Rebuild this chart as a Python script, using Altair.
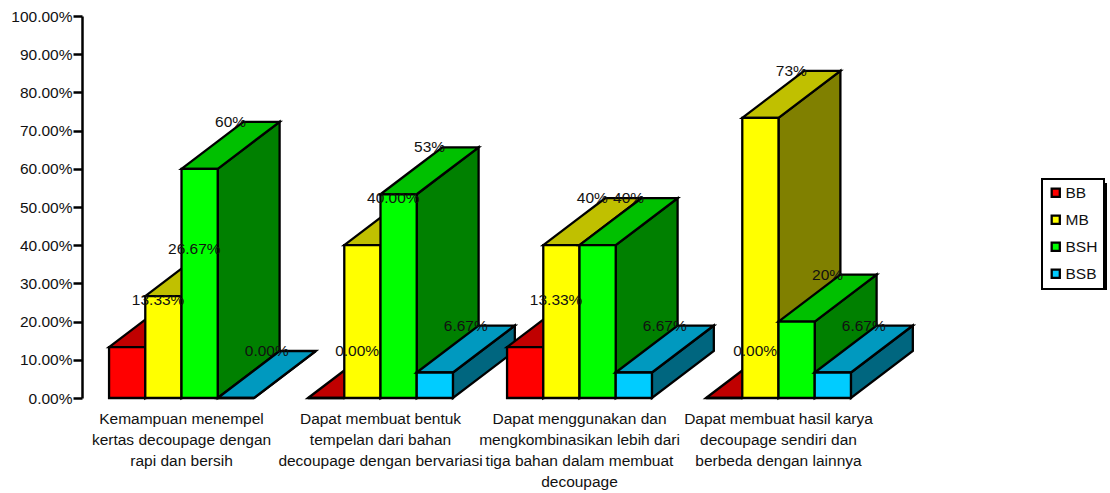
import altair as alt
import pandas as pd

# Survey results per assessed skill, as fractions of respondents
categories = [
    "Kemampuan menempel\nkertas decoupage dengan\nrapi dan bersih",
    "Dapat membuat bentuk\ntempelan dari bahan\ndecoupage dengan bervariasi",
    "Dapat menggunakan dan\nmengkombinasikan lebih dari\ntiga bahan dalam membuat\ndecoupage",
    "Dapat membuat hasil karya\ndecoupage sendiri dan\nberbeda dengan lainnya",
]
series = ["BB", "MB", "BSH", "BSB"]
bb_values = [0.1333, 0.0, 0.1333, 0.0]
mb_values = [0.2667, 0.40, 0.40, 0.7333]
bsh_values = [0.60, 0.5333, 0.40, 0.20]
bsb_values = [0.0, 0.0667, 0.0667, 0.0667]
bb_labels = ["13.33%", "0.00%", "13.33%", "0.00%"]
mb_labels = ["26.67%", "40.00%", "40%", "73%"]
bsh_labels = ["60%", "53%", "40%", "20%"]
bsb_labels = ["0.00%", "6.67%", "6.67%", "6.67%"]
front_colors = ["#FF0000", "#FFFF00", "#00FF00", "#00CCFF"]
top_colors = ["#C00000", "#C0C000", "#00C000", "#0099BF"]
side_colors = ["#800000", "#808000", "#008000", "#00667F"]
y_ticks = [i / 10 for i in range(11)]

values_by_series = [bb_values, mb_values, bsh_values, bsb_values]
labels_by_series = [bb_labels, mb_labels, bsh_labels, bsb_labels]

# Oblique projection: bar width and depth in category units / value units
BAR_W = 0.182
DEPTH_X = 0.311
DEPTH_Y = 0.123
FONT = "Liberation Sans"
FONT_SIZE = 15.5
TEXT_COLOR = "#111111"

faces = []
value_labels = []
face_id = 0


def add_face(shade, points):
    """Append one polygon as x / upper / lower rows of a painter-ordered area."""
    global face_id
    for x, upper, lower in points:
        faces.append({"face": f"f{face_id:03d}", "shade": shade, "x": x, "y": upper, "y2": lower})
    face_id += 1


for g in range(len(categories)):
    start = g + 0.5 - 2 * BAR_W
    for s, name in enumerate(series):
        v = values_by_series[s][g]
        x0 = start + s * BAR_W
        x1 = x0 + BAR_W
        # right-hand side face
        add_face(f"{name} side", [(x1, v, 0.0), (x1 + DEPTH_X, v + DEPTH_Y, DEPTH_Y)])
        # top face, split at its inner vertices so upper and lower edges share x values
        add_face(
            f"{name} top",
            [
                (x0, v, v),
                (x1, v + DEPTH_Y * BAR_W / DEPTH_X, v),
                (x0 + DEPTH_X, v + DEPTH_Y, v + DEPTH_Y * (DEPTH_X - BAR_W) / DEPTH_X),
                (x1 + DEPTH_X, v + DEPTH_Y, v + DEPTH_Y),
            ],
        )
        # front face
        add_face(name, [(x0, v, 0.0), (x1, v, 0.0)])
        value_labels.append(
            {
                "x": x0 + BAR_W / 2 + DEPTH_X / 2,
                "y": v + DEPTH_Y,
                "text": labels_by_series[s][g],
            }
        )

faces_df = pd.DataFrame(faces)
labels_df = pd.DataFrame(value_labels)
cats_df = pd.DataFrame({"x": [g + 0.5 for g in range(len(categories))], "text": categories})

shade_domain = series + [f"{n} top" for n in series] + [f"{n} side" for n in series]
shade_range = front_colors + top_colors + side_colors

PLOT_W = 1028
PLOT_H = 382
x_scale = alt.Scale(domain=[0, PLOT_W / 199.0], nice=False, zero=False)
y_scale = alt.Scale(domain=[0, 1], nice=False)

# Both y-encoded layers share one axis definition
y_axis = alt.Axis(
    values=y_ticks,
    format=".2%",
    grid=False,
    labelOverlap=False,
    labelFlush=False,
    domainColor="black",
    domainWidth=2.5,
    tickColor="black",
    tickWidth=2.5,
    tickSize=9,
    labelPadding=1,
    labelFont=FONT,
    labelFontSize=FONT_SIZE,
    labelColor=TEXT_COLOR,
    title=None,
)

bars = (
    alt.Chart(faces_df)
    .mark_area(stroke="black", strokeWidth=2.3, strokeJoin="miter", opacity=1, orient="vertical")
    .encode(
        x=alt.X("x:Q", scale=x_scale, axis=None),
        y=alt.Y("y:Q", scale=y_scale, stack=None, axis=y_axis),
        y2="y2:Q",
        detail="face:N",
        fill=alt.Fill(
            "shade:N",
            scale=alt.Scale(domain=shade_domain, range=shade_range),
            legend=alt.Legend(
                values=series,
                title=None,
                orient="none",
                legendX=960,
                legendY=163,
                zindex=1,
                fillColor="white",
                strokeColor="black",
                padding=6,
                symbolType="square",
                symbolSize=66,
                symbolStrokeColor="black",
                symbolStrokeWidth=2.3,
                symbolOpacity=1,
                labelFont=FONT,
                labelFontSize=FONT_SIZE,
                labelColor=TEXT_COLOR,
                labelOffset=2,
                rowPadding=9,
            ),
        ),
    )
)

value_text = (
    alt.Chart(labels_df)
    .mark_text(font=FONT, fontSize=FONT_SIZE, color=TEXT_COLOR, align="center", baseline="middle")
    .encode(
        x=alt.X("x:Q", scale=x_scale, axis=None),
        y=alt.Y("y:Q", scale=y_scale, axis=y_axis),
        text="text:N",
    )
)

category_text = (
    alt.Chart(cats_df)
    .mark_text(
        font=FONT,
        fontSize=FONT_SIZE,
        color=TEXT_COLOR,
        align="center",
        baseline="top",
        lineBreak="\n",
        lineHeight=21,
    )
    .encode(
        x=alt.X("x:Q", scale=x_scale, axis=None),
        y=alt.value(396),
        text="text:N",
    )
)

# Drop shadow sitting behind the legend box
legend_shadow = (
    alt.Chart(pd.DataFrame({"a": [0]}))
    .mark_rect(color="black")
    .encode(x=alt.value(964), x2=alt.value(1025), y=alt.value(167), y2=alt.value(274))
)

chart = (
    alt.layer(bars, value_text, category_text, legend_shadow)
    .resolve_scale(x="shared", y="shared")
    .properties(
        width=PLOT_W,
        height=PLOT_H,
        padding={"left": 82, "top": 16, "right": 0, "bottom": 95},
        autosize=alt.AutoSizeParams(type="none"),
        background="white",
    )
    .configure_view(stroke=None)
    .configure_legend(strokeWidth=2)
)

chart.save("out.html", embed_options={"renderer": "svg", "actions": False})
